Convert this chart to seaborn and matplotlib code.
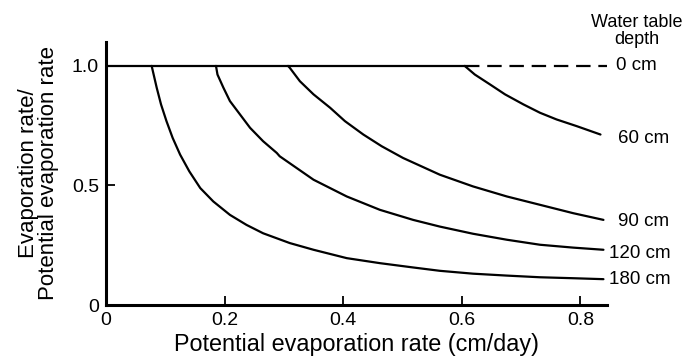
import numpy as np
import pandas as pd
import matplotlib
matplotlib.use("Agg")
import matplotlib.pyplot as plt
import seaborn as sns

# Data
x0_solid = [0.0, 0.605]
y0_solid = [1.0, 1.0]
x0_dash = [0.605, 0.847]
y0_dash = [1.0, 1.0]

x60 = [0.605, 0.622, 0.648, 0.673, 0.704, 0.732, 0.760, 0.794, 0.834]
y60 = [1.0, 0.964, 0.922, 0.881, 0.839, 0.804, 0.776, 0.748, 0.713]

x90 = [0.307, 0.310, 0.327, 0.350, 0.378, 0.403, 0.434, 0.465, 0.501, 0.563, 0.619, 0.676, 0.732, 0.788, 0.839]
y90 = [1.0, 0.992, 0.936, 0.881, 0.825, 0.769, 0.713, 0.664, 0.615, 0.545, 0.496, 0.454, 0.419, 0.384, 0.356]

x120 = [0.1855, 0.188, 0.198, 0.209, 0.226, 0.243, 0.265, 0.288, 0.293, 0.350, 0.406, 0.462, 0.518, 0.563, 0.619, 0.676, 0.732, 0.788, 0.839]
y120 = [1.0, 0.964, 0.909, 0.853, 0.797, 0.741, 0.685, 0.636, 0.622, 0.524, 0.454, 0.398, 0.356, 0.328, 0.298, 0.273, 0.252, 0.240, 0.231]

x180 = [0.077, 0.0855, 0.0928, 0.102, 0.1124, 0.125, 0.1405, 0.159, 0.181, 0.209, 0.237, 0.265, 0.310, 0.350, 0.406, 0.462, 0.518, 0.563, 0.619, 0.676, 0.732, 0.788, 0.839]
y180 = [1.0, 0.909, 0.839, 0.769, 0.699, 0.629, 0.559, 0.489, 0.433, 0.377, 0.335, 0.300, 0.259, 0.231, 0.196, 0.175, 0.157, 0.143, 0.131, 0.123, 0.116, 0.112, 0.108]

depth_labels = ["0 cm", "60 cm", "90 cm", "120 cm", "180 cm"]
label_y = [1.0, 0.698, 0.349, 0.214, 0.107]
label_x = [0.86, 0.864, 0.864, 0.849, 0.849]

frames = []
for name, xs, ys, sty in [("0s", x0_solid, y0_solid, "solid"),
                          ("0d", x0_dash, y0_dash, "dashed"),
                          ("60", x60, y60, "solid"),
                          ("90", x90, y90, "solid"),
                          ("120", x120, y120, "solid"),
                          ("180", x180, y180, "solid")]:
    frames.append(pd.DataFrame({"x": xs, "y": ys, "curve": name, "seg": sty}))
df = pd.concat(frames, ignore_index=True)

sns.set_theme(style="ticks")
plt.rcParams['font.family'] = ['Liberation Sans', 'DejaVu Sans']

fig = plt.figure(figsize=(6.87, 3.63), dpi=100)
ax = fig.add_axes([106/687, 1-305/363, (607-106)/687, (305-42)/363])

sns.lineplot(data=df, x="x", y="y", units="curve", estimator=None, sort=False,
             style="seg", dashes={"solid": "", "dashed": (6.5, 3.5)},
             color="black", lw=1.6, legend=False, ax=ax)

ax.set_xlim(0, 0.845)
ax.set_ylim(0, 1.10)
ax.set_xticks([0, 0.2, 0.4, 0.6, 0.8])
ax.set_xticklabels(["0", "0.2", "0.4", "0.6", "0.8"])
ax.set_yticks([0, 0.5, 1.0])
ax.set_yticklabels(["0", "0.5", "1.0"])
ax.tick_params(direction="in", length=6.5, width=1.3, labelsize=14, colors="black", pad=5)
for s in ["top", "right"]:
    ax.spines[s].set_visible(False)
for s in ["left", "bottom"]:
    ax.spines[s].set_linewidth(2.2)
    ax.spines[s].set_color("black")

ax.set_xlabel("Potential evaporation rate (cm/day)", fontsize=16.8, labelpad=3, color="black")
ax.set_ylabel("Evaporation rate/\nPotential evaporation rate", fontsize=16, labelpad=9,
              color="black", linespacing=0.95)

for lab, lx, ly in zip(depth_labels, label_x, label_y):
    ax.text(lx, ly, lab, fontsize=13.5, va="center", ha="left", clip_on=False, color="black")
ax.text(0.895, 1.148, "Water table\ndepth", fontsize=13, ha="center", va="center",
        clip_on=False, color="black", linespacing=1.0)

fig.savefig("out.png", dpi=100, facecolor="white")
